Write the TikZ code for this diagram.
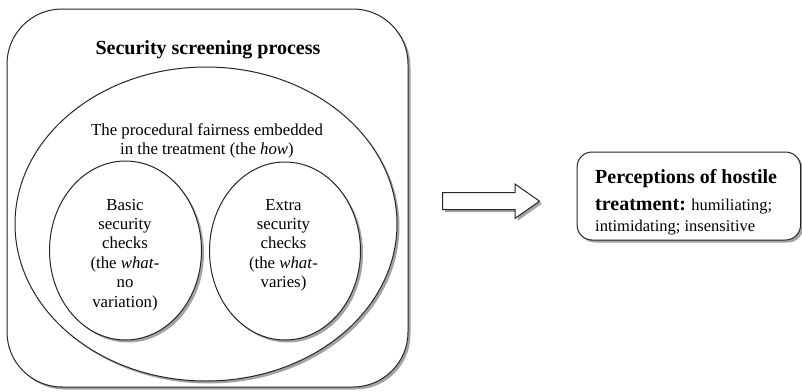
\documentclass[tikz,border=0pt]{standalone}
\usepackage{fontspec}
\setmainfont{Liberation Serif}
\usetikzlibrary{shapes.geometric,shadows}

\tikzset{
  shade/.style={drop shadow={shadow xshift=2.5pt, shadow yshift=-2.5pt, fill=black!60, opacity=.6}},
  outline/.style={draw=black!85, line width=1pt, fill=white, shade},
  frame/.style={outline, rectangle, rounded corners=55pt, inner sep=0pt,
    minimum width=401pt, minimum height=378pt},
  bubble/.style={outline, ellipse, inner sep=0pt},
  resultbox/.style={outline, rectangle, rounded corners=15pt, inner sep=0pt,
    minimum width=223.5pt, minimum height=88pt},
  titletext/.style={font=\fontsize{20}{24}\selectfont\bfseries, inner sep=0pt},
  bodytext/.style={font=\fontsize{16.8}{19.4}\selectfont, align=center, inner sep=0pt},
  resulttext/.style={font=\fontsize{16.5}{21}\selectfont, align=left, inner sep=0pt},
  blockarrow/.style={outline, line join=miter}
}

\begin{document}
\begin{tikzpicture}[x=1pt, y=-1pt]
  \useasboundingbox (0,0) rectangle (802,391);

  % screening process container
  \node[frame] (process) at (207.5,198) {};
  \node[titletext, anchor=base] (title) at (208,54) {Security screening process};

  % procedural fairness region (multi-line texts are placed by their last baseline)
  \node[bubble, minimum width=382pt, minimum height=314pt] (fairness) at (206,224) {};
  \node[bodytext, anchor=base] (fairtext) at (207,154.4)
    {The procedural fairness embedded\\in the treatment (the \textit{how})};

  % basic and extra checks
  \node[bubble, minimum width=152pt, minimum height=179pt] (basic) at (125.5,250.5) {};
  \node[bubble, minimum width=151pt, minimum height=178pt] (extra) at (285,251) {};
  \node[bodytext, anchor=base] (basictext) at (125,307)
    {Basic\\security\\checks\\(the \textit{what}-\\no\\variation)};
  \node[bodytext, anchor=base] (extratext) at (283.5,287.6)
    {Extra\\security\\checks\\(the \textit{what}-\\varies)};

  % block arrow towards the outcome
  \path[blockarrow] (442.7,192.7) -- (515,192.7) -- (515,184) -- (539.5,201.2)
    -- (515,218.4) -- (515,209.5) -- (442.7,209.5) -- cycle;

  % outcome box
  \node[resultbox] (outcome) at (688.8,196) {};
  \node[resulttext, anchor=base west] (outtext) at (595,231.4)
    {\textbf{\fontsize{20}{24}\selectfont Perceptions of hostile}\\[6.4pt]
     \textbf{\fontsize{20}{24}\selectfont treatment:} humiliating;\\
     intimidating; insensitive};
\end{tikzpicture}
\end{document}
